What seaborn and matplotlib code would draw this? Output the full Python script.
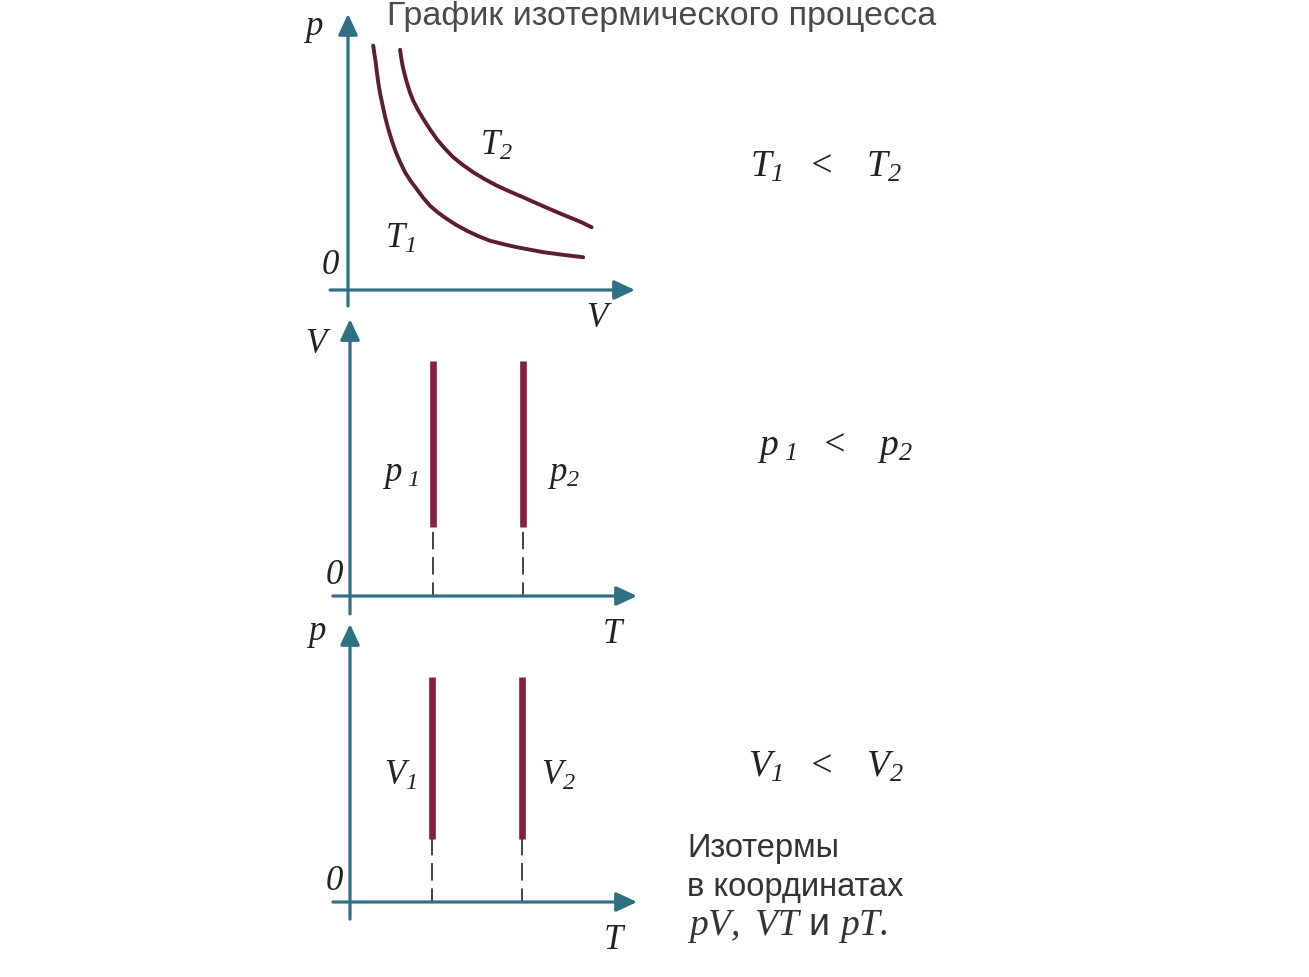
import numpy as np
import pandas as pd
import matplotlib
matplotlib.use("Agg")
import matplotlib.pyplot as plt
import seaborn as sns

sns.set_theme(style="white")
plt.rcParams["font.family"] = ["Liberation Sans", "DejaVu Sans"]
plt.rcParams["mathtext.fontset"] = "custom"
plt.rcParams["mathtext.it"] = "Liberation Serif:italic"
plt.rcParams["mathtext.rm"] = "Liberation Serif:italic"

# pV panel: two isotherms (T1 lower, T2 upper)
t1_v = [0.90, 0.94, 0.99, 1.03, 1.08, 1.15, 1.24, 1.33, 1.44, 1.57, 1.71, 1.87, 2.04, 2.24,
        2.45, 2.68, 2.93, 3.22, 3.53, 3.87, 4.24, 4.64, 5.07, 5.54, 6.02, 6.50, 6.98, 7.65, 8.40]
t1_p = [8.73, 8.45, 8.13, 7.78, 7.42, 7.00, 6.58, 6.16, 5.75, 5.32, 4.92, 4.55, 4.20, 3.89,
        3.61, 3.30, 3.01, 2.76, 2.54, 2.32, 2.12, 1.93, 1.76, 1.64, 1.53, 1.44, 1.35, 1.26, 1.17]
t2_v = [1.86, 1.90, 1.95, 2.02, 2.10, 2.20, 2.33, 2.50, 2.69, 2.92, 3.17, 3.45, 3.76, 4.11,
        4.48, 4.88, 5.31, 5.77, 6.26, 6.73, 7.21, 7.63, 8.05, 8.40, 8.70]
t2_p = [8.58, 8.30, 8.01, 7.71, 7.42, 7.09, 6.76, 6.43, 6.11, 5.75, 5.39, 5.06, 4.74, 4.46,
        4.20, 3.96, 3.73, 3.52, 3.31, 3.10, 2.89, 2.71, 2.54, 2.39, 2.24]

# VT panel: isotherms are vertical segments at T1, T2
vt_T = [2.98, 6.19]
vt_names = ["p1", "p2"]
vt_lo, vt_hi = 2.45, 8.40

# pT panel
pt_T = [2.93, 6.14]
pt_names = ["V1", "V2"]
pt_lo, pt_hi = 2.25, 8.04

AXIS = "#2f7085"
CURVE = "#5e1c36"
ISO = "#84213f"
INK = "#222222"

W, H = 1309, 978
S = 28.0  # pixels per data unit

fig = plt.figure(figsize=(W / 100, H / 100), dpi=100)
fig.patch.set_facecolor("white")


def make_panel(box, origin):
    x0, y0, x1, y1 = box
    ox, oy = origin
    ax = fig.add_axes([x0 / W, 1 - y1 / H, (x1 - x0) / W, (y1 - y0) / H])
    ax.set_xlim((x0 - ox) / S, (x1 - ox) / S)
    ax.set_ylim((oy - y1) / S, (oy - y0) / S)
    ax.set_axis_off()
    return ax


def draw_axes(ax, xlo, xhi, ylo, yhi):
    kw = dict(arrowstyle="-|>,head_length=0.9,head_width=0.42", color=AXIS,
              lw=2.3, shrinkA=0, shrinkB=0, mutation_scale=14)
    ax.annotate("", xy=(xhi, 0), xytext=(xlo, 0), arrowprops=kw, annotation_clip=False)
    ax.annotate("", xy=(0, yhi), xytext=(0, ylo), arrowprops=kw, annotation_clip=False)


def label(ax, x, y, s, size=25):
    ax.text(x, y, s, ha="center", va="center", size=size, color=INK)


def isolines(ax, xs, names, lo, hi):
    df = pd.DataFrame({"x": np.repeat(xs, 2), "y": [lo, hi] * len(xs),
                       "name": np.repeat(names, 2)})
    sns.lineplot(data=df, x="x", y="y", units="name", estimator=None, sort=False,
                 color=ISO, lw=4.8, solid_capstyle="butt", legend=False, ax=ax)
    dash = pd.DataFrame({"x": np.repeat(xs, 2), "y": [0, lo] * len(xs),
                         "name": np.repeat(names, 2)})
    sns.lineplot(data=dash, x="x", y="y", units="name", estimator=None, sort=False,
                 color="#444444", lw=1.4, linestyle=(2, (9, 4)), legend=False, ax=ax)


# pV
ax1 = make_panel((290, 0, 650, 310), (348, 291))
draw_axes(ax1, -0.64, 10.25, -0.57, 9.86)
sns.lineplot(x=t1_v, y=t1_p, sort=False, estimator=None, color=CURVE, lw=2.8, ax=ax1)
sns.lineplot(x=t2_v, y=t2_p, sort=False, estimator=None, color=CURVE, lw=2.8, ax=ax1)
label(ax1, -1.25, 9.39, r"$p$")
label(ax1, -0.61, 0.93, r"$0$")
label(ax1, 8.96, -0.96, r"$V$")
label(ax1, 5.29, 5.21, r"$T_2$")
label(ax1, 1.86, 1.89, r"$T_1$")

# VT
ax2 = make_panel((290, 312, 650, 616), (350, 597))
draw_axes(ax2, -0.61, 10.25, -0.64, 9.89)
isolines(ax2, vt_T, vt_names, vt_lo, vt_hi)
label(ax2, -1.14, 9.07, r"$V$")
label(ax2, -0.54, 0.79, r"$0$")
label(ax2, 9.43, -1.29, r"$T$")
label(ax2, 1.79, 4.39, r"$p_{\ 1}$")
label(ax2, 7.61, 4.39, r"$p_{2}$")

# pT
ax3 = make_panel((290, 618, 650, 960), (350, 903))
draw_axes(ax3, -0.61, 10.25, -0.61, 9.93)
isolines(ax3, pt_T, pt_names, pt_lo, pt_hi)
label(ax3, -1.21, 9.64, r"$p$")
label(ax3, -0.54, 0.82, r"$0$")
label(ax3, 9.46, -1.32, r"$T$")
label(ax3, 1.79, 4.57, r"$V_1$")
label(ax3, 7.43, 4.57, r"$V_2$")

# relations on the right
fig.text(826 / W, 1 - 167 / H, r"$T_1\ \ <\ \ \ T_2$", ha="center", va="center", size=27, color=INK)
fig.text(835 / W, 1 - 447 / H, r"$p_{\ 1}\ \ <\ \ \ p_2$", ha="center", va="center", size=27, color=INK)
fig.text(826 / W, 1 - 767 / H, r"$V_1\ \ <\ \ \ V_2$", ha="center", va="center", size=27, color=INK)

# caption
fig.text(687 / W, 1 - 857 / H, "Изотермы", ha="left", va="baseline", size=23.5, color="#333333")
fig.text(687 / W, 1 - 896 / H, "в координатах", ha="left", va="baseline", size=23.5, color="#333333")
fig.text(687 / W, 1 - 935 / H, r"$pV,\ VT$ и $pT.$", ha="left", va="baseline", size=27, color="#333333")

# title, right at the top edge
fig.text(662 / W, 1 - 25 / H, "График изотермического процесса", ha="center", va="baseline",
         size=24.5, color="#4a4a4a")

fig.savefig("out.png", dpi=100, facecolor="white")
